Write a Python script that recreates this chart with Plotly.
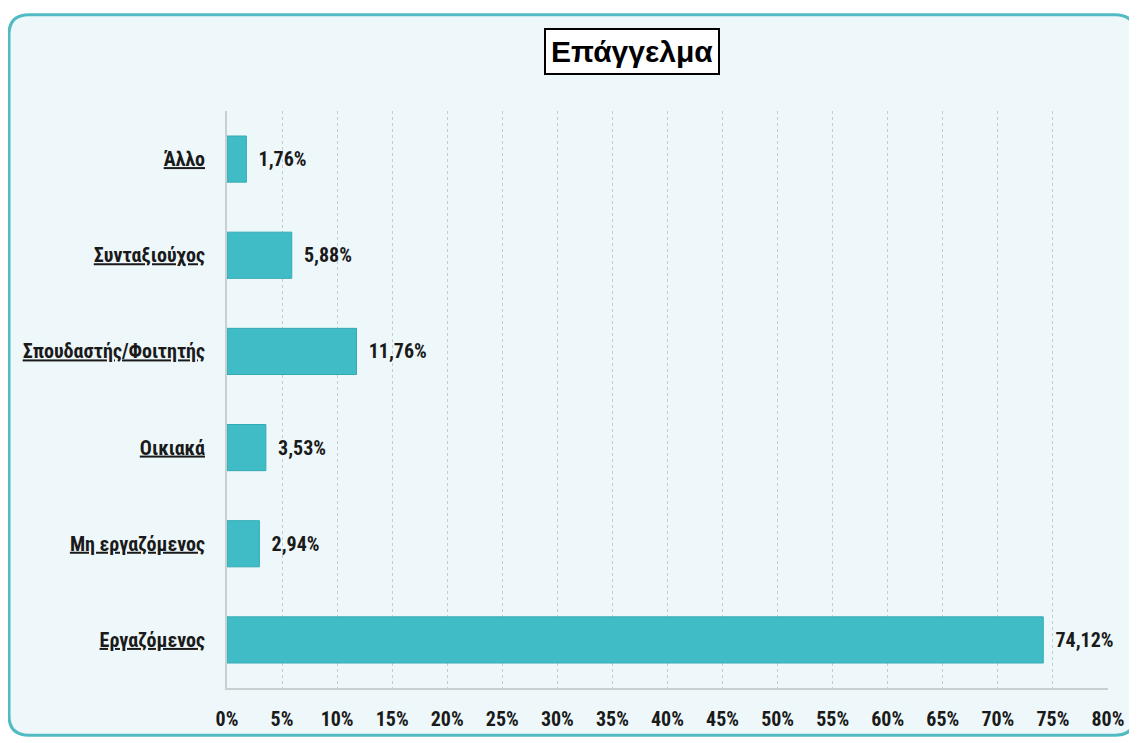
import plotly.graph_objects as go

categories = ["Εργαζόμενος", "Μη εργαζόμενος", "Οικιακά", "Σπουδαστής/Φοιτητής", "Συνταξιούχος", "Άλλο"]
values = [74.12, 2.94, 3.53, 11.76, 5.88, 1.76]
value_labels = ["74,12%", "2,94%", "3,53%", "11,76%", "5,88%", "1,76%"]
x_ticks = list(range(0, 85, 5))
x_tick_labels = [f"{t}%" for t in x_ticks]

font_narrow = "Liberation Sans Narrow, Arial Narrow, Roboto Condensed, Arial, sans-serif"

# the page adds an 8px body margin, so the figure is 8px smaller than the window
W, H = 1129, 735
l, r, t, b = 219, 29, 103, 45
pw, ph = W - l - r, H - t - b


def px2x(p):
    return (p - l) / pw


def px2y(p):
    return (H - b - p) / ph


fig = go.Figure(
    go.Bar(
        x=values,
        y=categories,
        orientation="h",
        width=0.48,
        marker=dict(color="#3fbcc5", line=dict(color="#34aab3", width=1)),
        text=[f"<b>  {v}</b>" for v in value_labels],
        textposition="outside",
        textfont=dict(family=font_narrow, size=20, color="#1a1a1a"),
        cliponaxis=False,
    )
)

# rounded background panel
x0, x1, y0, y1, rad = 1, 1127, 5, 738, 20
path = (
    f"M {px2x(x0 + rad)},{px2y(y0)} L {px2x(x1 - rad)},{px2y(y0)} "
    f"Q {px2x(x1)},{px2y(y0)} {px2x(x1)},{px2y(y0 + rad)} "
    f"L {px2x(x1)},{px2y(y1 - rad)} Q {px2x(x1)},{px2y(y1)} {px2x(x1 - rad)},{px2y(y1)} "
    f"L {px2x(x0 + rad)},{px2y(y1)} Q {px2x(x0)},{px2y(y1)} {px2x(x0)},{px2y(y1 - rad)} "
    f"L {px2x(x0)},{px2y(y0 + rad)} Q {px2x(x0)},{px2y(y0)} {px2x(x0 + rad)},{px2y(y0)} Z"
)

fig.update_layout(
    width=W,
    height=H,
    margin=dict(l=l, r=r, t=t, b=b),
    paper_bgcolor="white",
    plot_bgcolor="rgba(0,0,0,0)",
    showlegend=False,
    shapes=[
        dict(
            type="path",
            xref="paper", yref="paper",
            layer="below",
            path=path,
            fillcolor="#eef8fa",
            line=dict(color="#52bac2", width=3),
        )
    ],
)

fig.add_annotation(
    text="<b>Επάγγελμα</b>",
    xref="paper", yref="paper",
    x=px2x(624), y=px2y(42),
    xanchor="center", yanchor="middle",
    showarrow=False,
    font=dict(family="Liberation Sans, Arial, sans-serif", size=30, color="black"),
    bgcolor="white",
    bordercolor="black",
    borderwidth=2,
    borderpad=5,
)

fig.update_xaxes(
    range=[0, 80],
    tickvals=x_ticks,
    ticktext=[f"<b>{s}</b>" for s in x_tick_labels],
    tickfont=dict(family=font_narrow, size=20, color="#1a1a1a"),
    showgrid=True,
    gridcolor="#c3cbce",
    griddash="dot",
    gridwidth=1,
    showline=True,
    linecolor="#c9d0d2",
    linewidth=2,
    zeroline=False,
    ticks="",
    ticklabelstandoff=12,
)
fig.update_yaxes(
    categoryorder="array",
    categoryarray=categories,
    tickvals=categories,
    ticktext=[f"<u><b>{c}</b></u>" for c in categories],
    tickfont=dict(family=font_narrow, size=20, color="#1a1a1a"),
    showline=True,
    linecolor="#c9d0d2",
    linewidth=2,
    showgrid=False,
    ticks="",
    ticklabelstandoff=16,
)

fig.write_html("out.html")
